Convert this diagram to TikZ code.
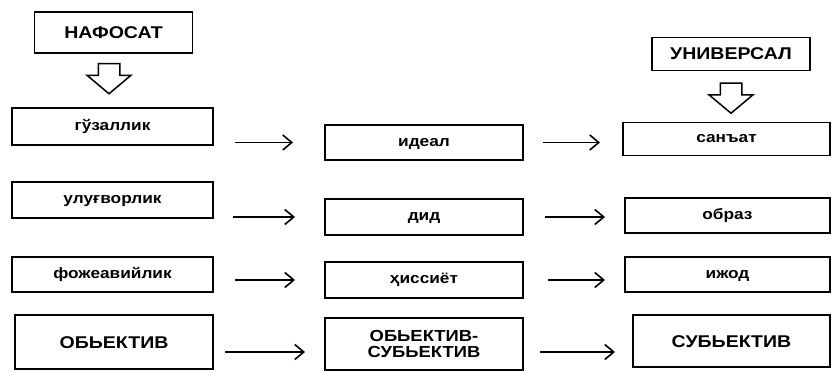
\documentclass[tikz,border=0pt]{standalone}
\usepackage{fontspec}
\setmainfont{Liberation Sans}[FakeStretch=1.15]
\usepackage{tikz}
\usetikzlibrary{positioning,arrows.meta,shapes.arrows}
\newcommand{\capsize}{\fontsize{17}{18}\selectfont}
\newcommand{\lowsize}{\fontsize{15}{16}\selectfont}
\tikzset{
  rectbox/.style args={#1,#2}{
  draw=black,
  line width=1.5pt,
  outer sep=0pt,
  font=\bfseries\lowsize,
  text height=7.8pt,
  text depth=0pt,
  minimum width=#1pt,
  minimum height=#2pt,
  },
  capbox/.style={font=\bfseries\capsize,text height=12pt},
  hollow/.style={single arrow,draw=black,fill=white,line width=1.5pt,
   rotate=-90,anchor=tail,inner xsep=0pt,inner ysep=10pt,minimum height=30pt,
   single arrow head extend=11pt,single arrow tip angle=100},
  flow/.style={line width=1.6pt,-{Straight Barb[length=9pt,width=15pt]}},
}
\begin{document}
\begin{tikzpicture}
  \useasboundingbox (0,0) rectangle (835pt,-371pt);

  \node [rectbox={158,41},capbox] (n0) at (113.5pt,-32.5pt) {НАФОСАТ};
  \node [hollow] (h1) at ([xshift=-4.5pt,yshift=-10pt]n0.south) {};

  \node [rectbox={201,37},below=55pt of n0,xshift=-1pt] (a1) {гўзаллик};
  \node [rectbox={201,36},below=37pt of a1] (a2) {улуғворлик};
  \node [rectbox={201,35},below=39pt of a2] (a3) {фожеавийлик};
  \node [rectbox={198,54},capbox,below=23pt of a3,xshift=1.5pt] (a4) {ОБЬЕКТИВ};

  \node [rectbox={198,35},right=112pt of a1,yshift=-16pt] (i1) {идеал};
  \node [rectbox={198,36},right=112pt of a2,yshift=-17pt] (i2) {дид};
  \node [rectbox={198,36},right=112pt of a3,yshift=-5.5pt] (i3) {ҳиссиёт};
  \node [rectbox={198,52},right=112pt of a4,yshift=-2pt,align=center,
         text height=,text depth=,
         font=\bfseries\fontsize{16}{16}\selectfont] (i4) {ОБЬЕКТИВ-\\СУБЬЕКТИВ};

  \node [rectbox={207,33},right=100pt of i1,yshift=3.5pt] (s1) {санъат};
  \node [rectbox={205,35},right=102pt of i2,yshift=1.5pt] (s2) {образ};
  \node [rectbox={205,35},right=102pt of i3,yshift=5.5pt] (s3) {ижод};
  \node [rectbox={197,52},capbox,right=110pt of i4,yshift=3pt] (s4) {СУБЬЕКТИВ};

  \node [rectbox={158,33},capbox,above=52pt of s1,xshift=4.5pt] (u0) {УНИВЕРСАЛ};
  \node [hollow] (h2) at ([yshift=-12pt]u0.south) {};

  \coordinate (m4w) at ([yshift=-8pt]i4.west);
  \coordinate (m4e) at ([yshift=-8pt]i4.east);

  % left column to middle column
  \draw [flow,shorten <=22pt,shorten >=32pt] (a1.east |- i1.west) -- (i1.west);
  \draw [flow,shorten <=20pt,shorten >=30pt] (a2.east |- i2.west) -- (i2.west);
  \draw [flow,shorten <=22pt,shorten >=30pt] (a3.east |- i3.west) -- (i3.west);
  \draw [flow,shorten <=12pt,shorten >=20pt] (a4.east |- m4w) -- (m4w);
  % middle column to right column
  \draw [flow,shorten <=20pt,shorten >=23pt] (i1.east) -- (i1.east -| s1.west);
  \draw [flow,shorten <=22pt,shorten >=20pt] (i2.east) -- (i2.east -| s2.west);
  \draw [flow,shorten <=25pt,shorten >=20pt] (i3.east) -- (i3.east -| s3.west);
  \draw [flow,shorten <=17pt,shorten >=18pt] (m4e) -- (m4e -| s4.west);
\end{tikzpicture}
\end{document}
